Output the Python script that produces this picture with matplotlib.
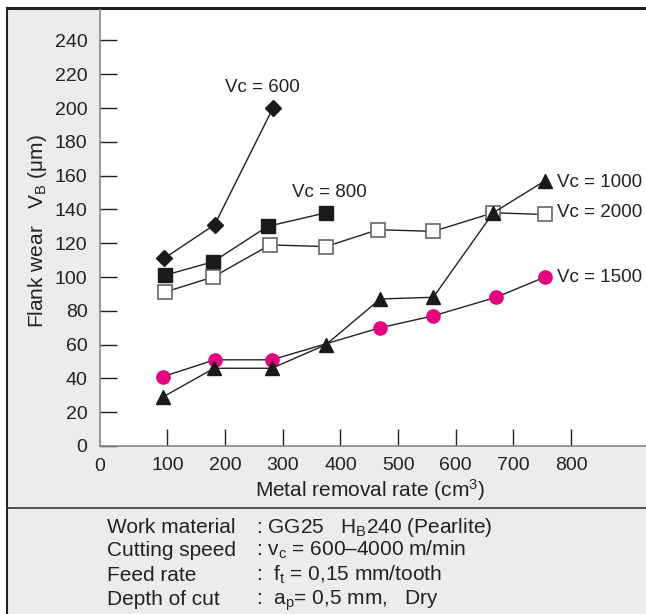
import matplotlib
matplotlib.use("Agg")
import matplotlib.pyplot as plt
from matplotlib.patches import Rectangle
from matplotlib.lines import Line2D

plt.rcParams['font.family'] = ['Liberation Sans', 'DejaVu Sans']
plt.rcParams['mathtext.fontset'] = 'custom'
plt.rcParams['mathtext.rm'] = 'Liberation Sans'
plt.rcParams['mathtext.it'] = 'Liberation Sans:italic'

# ---- data ----
x_600 = [94, 182, 283]
y_600 = [111, 131, 200]
x_800 = [95, 179, 274, 375]
y_800 = [101, 109, 130, 138]
x_2000 = [95, 179, 278, 375, 465, 561, 665, 755]
y_2000 = [91, 100, 119, 118, 128, 127, 138, 137]
x_1000 = [92, 181, 281, 375, 469, 561, 665, 755]
y_1000 = [29, 46, 46, 60, 87, 88, 138, 157]
x_1500 = [92, 182, 281, 469, 561, 670, 755]
y_1500 = [41, 51, 51, 70, 77, 88, 100]

x_ticks = [100, 200, 300, 400, 500, 600, 700, 800]
y_ticks = [0, 20, 40, 60, 80, 100, 120, 140, 160, 180, 200, 220, 240]

labels_left = ["Work material", "Cutting speed", "Feed rate", "Depth of cut"]
labels_right = [": GG25   H$_\\mathrm{B}$240 (Pearlite)",
                ": v$_\\mathrm{c}$ = 600\u20134000 m/min",
                ":  f$_\\mathrm{t}$ = 0,15 mm/tooth",
                ":  a$_\\mathrm{p}$= 0,5 mm,   Dry"]

W, H = 646, 614
fig = plt.figure(figsize=(W / 100, H / 100), dpi=100, facecolor='white')

def fx(px):
    return px / W

def fy(py):
    return 1 - py / H

# background panel
bg = Rectangle((fx(7), 0), 1 - fx(7) + 0.01, fy(8), transform=fig.transFigure,
               facecolor='#ececec', edgecolor='none', zorder=-10)
fig.add_artist(bg)
fig.add_artist(Line2D([fx(7), 1], [fy(8), fy(8)], color='#222222', lw=2.2, transform=fig.transFigure, zorder=-5))
fig.add_artist(Line2D([fx(7), fx(7)], [0, fy(8)], color='#222222', lw=1.5, transform=fig.transFigure, zorder=-5))
fig.add_artist(Line2D([fx(7), 1], [fy(508), fy(508)], color='#333333', lw=1.2, transform=fig.transFigure, zorder=-5))

ax = fig.add_axes([fx(100), fy(446), 1 - fx(100), fy(10) - fy(446)])
ax.set_zorder(1)
ax.set_facecolor('white')
ax.set_xlim(-17, 930)
ax.set_ylim(0, 258)

lc = '#222222'
ax.plot(x_600, y_600, color=lc, lw=1, marker='D', ms=8.5, mfc='#1a1a1a', mec='#1a1a1a', zorder=3)
ax.plot(x_800, y_800, color=lc, lw=1, marker='s', ms=9.5, mfc='#1a1a1a', mec='#1a1a1a', zorder=3)
ax.plot(x_2000, y_2000, color=lc, lw=1, marker='s', ms=9.5, mfc='white', mec='#666666', mew=1.2, zorder=3)
ax.plot(x_1500, y_1500, color=lc, lw=1, marker='o', ms=9.5, mfc='#e6007e', mec='#e6007e', zorder=3)
ax.plot(x_1000, y_1000, color=lc, lw=1, marker='^', ms=10, mfc='#1a1a1a', mec='#1a1a1a', zorder=4)

fs = 13.5
ax.text(265, 212, "Vc = 600", ha='center', va='center', fontsize=fs, color='#222222')
ax.text(380, 150, "Vc = 800", ha='center', va='center', fontsize=fs, color='#222222')
ax.text(775, 156, "Vc = 1000", ha='left', va='center', fontsize=fs, color='#222222')
ax.text(775, 138, "Vc = 2000", ha='left', va='center', fontsize=fs, color='#222222')
ax.text(775, 100, "Vc = 1500", ha='left', va='center', fontsize=fs, color='#222222')

for s in ['top', 'right']:
    ax.spines[s].set_visible(False)
for s in ['left', 'bottom']:
    ax.spines[s].set_color('#888888')
    ax.spines[s].set_linewidth(1.2)

ax.set_xticks(x_ticks)
ax.set_xticklabels([str(v) for v in x_ticks])
ax.set_yticks(y_ticks)
ax.set_yticklabels([str(v) for v in y_ticks])
ax.tick_params(axis='both', direction='in', length=12, width=1, color='#222222',
               labelsize=14, labelcolor='#222222')
ax.tick_params(axis='y', pad=9)
ax.tick_params(axis='x', pad=8)
# "0" label at origin of x axis
ax.text(-17, -7, "0", ha='center', va='top', fontsize=14, color='#222222', clip_on=False)

fig.text(fx(370), fy(497), "Metal removal rate (cm$^3$)", ha='center', va='baseline',
         fontsize=15, color='#222222')
fig.text(fx(38), fy(231), "Flank wear   V$_\\mathrm{B}$ (\u03bcm)", ha='center', va='center',
         rotation=90, fontsize=15, color='#222222')

ys = [533, 556, 581, 605]
for yy, l, r in zip(ys, labels_left, labels_right):
    fig.text(fx(107), fy(yy), l, ha='left', va='baseline', fontsize=15, color='#222222')
    fig.text(fx(256), fy(yy), r, ha='left', va='baseline', fontsize=15, color='#222222')

fig.savefig("out.png", dpi=100, facecolor=fig.get_facecolor())
